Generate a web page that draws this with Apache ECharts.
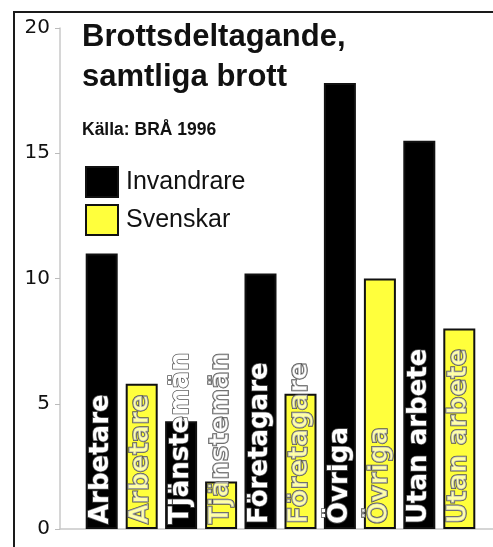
<!DOCTYPE html>
<html>
<head>
<meta charset="utf-8">
<script src="https://cdn.jsdelivr.net/npm/echarts@6/dist/echarts.min.js"></script>
<style>
  html, body { margin: 0; padding: 0; background: #fff; }
  #main { width: 493px; height: 547px; }
</style>
</head>
<body>
<div id="main"></div>
<script>
// data
const categories = ['Arbetare', 'Tjänstemän', 'Företagare', 'Övriga', 'Utan arbete'];
const invandrare = [11.0, 4.3, 10.2, 17.8, 15.5];
const svenskar = [5.8, 1.9, 5.4, 10.0, 8.0];
const yTicks = { min: 0, max: 20, interval: 5 };

const myChart = echarts.init(document.getElementById('main'));

// names written upward inside the bars
const barLabel = {
  show: true,
  formatter: '{b}',
  rotate: 90,
  position: 'insideBottom',
  align: 'left',
  verticalAlign: 'middle',
  distance: 5,
  overflow: 'none',
  fontFamily: 'DejaVu Sans',
  fontWeight: 'bold',
  fontSize: 26,
  textBorderColor: '#555',
  textBorderWidth: 1.5,
};

const option = {
  backgroundColor: '#fff',
  animation: false,
  title: {
    text: 'Brottsdeltagande,\nsamtliga brott',
    subtext: 'Källa: BRÅ 1996',
    left: 77,
    top: 12,
    itemGap: 23,
    textStyle: {
      fontFamily: 'Liberation Sans',
      fontWeight: 'bold',
      fontSize: 31,
      lineHeight: 40,
      color: '#111',
    },
    subtextStyle: {
      fontFamily: 'Liberation Sans',
      fontWeight: 'bold',
      fontSize: 17.5,
      lineHeight: 20,
      color: '#111',
    },
  },
  legend: {
    data: ['Invandrare', 'Svenskar'],
    orient: 'vertical',
    left: 85,
    top: 166,
    padding: 0,
    itemWidth: 32,
    itemHeight: 30,
    itemGap: 6,
    icon: 'rect',
    textStyle: {
      fontFamily: 'Liberation Sans',
      fontSize: 25,
      color: '#111',
      padding: [0, 0, 0, 3],
    },
  },
  graphic: [
    {
      type: 'rect',
      silent: true,
      shape: { x: 14, y: 12, width: 600, height: 700 },
      style: { fill: 'none', stroke: '#1a1a1a', lineWidth: 2 },
    },
  ],
  grid: [
    { left: 60, right: 0, top: 28, bottom: 18 },
    { left: 82, right: 14, top: 28, bottom: 18 },
  ],
  xAxis: [
    {
      // only draws the base line across the full width
      type: 'value',
      gridIndex: 0,
      min: 0,
      max: 1,
      axisLine: { show: true, lineStyle: { color: '#c8c8c8', width: 1.5 } },
      axisTick: { show: false },
      axisLabel: { show: false },
      splitLine: { show: false },
    },
    {
      type: 'category',
      gridIndex: 1,
      data: categories,
      axisLine: { show: false },
      axisTick: { show: false },
      axisLabel: { show: false },
    },
  ],
  yAxis: [
    {
      type: 'value',
      gridIndex: 0,
      min: yTicks.min,
      max: yTicks.max,
      interval: yTicks.interval,
      axisLine: { show: true, lineStyle: { color: '#c8c8c8', width: 1.5 } },
      axisTick: { show: true, length: 5, lineStyle: { color: '#bbb' } },
      axisLabel: {
        margin: 10,
        fontFamily: 'DejaVu Sans',
        fontSize: 20,
        color: '#111',
      },
      splitLine: { show: false },
    },
    {
      type: 'value',
      gridIndex: 1,
      min: yTicks.min,
      max: yTicks.max,
      interval: yTicks.interval,
      show: false,
    },
  ],
  series: [
    {
      name: 'Invandrare',
      type: 'bar',
      xAxisIndex: 1,
      yAxisIndex: 1,
      data: invandrare,
      barWidth: 32,
      barGap: '25%',
      itemStyle: { color: '#000', borderColor: '#111', borderWidth: 2 },
      label: Object.assign({}, barLabel, { color: '#fff' }),
    },
    {
      name: 'Svenskar',
      type: 'bar',
      xAxisIndex: 1,
      yAxisIndex: 1,
      data: svenskar,
      barWidth: 32,
      barGap: '25%',
      itemStyle: { color: '#ffff3c', borderColor: '#111', borderWidth: 2 },
      label: Object.assign({}, barLabel, { color: 'rgba(255,255,255,0.55)' }),
    },
  ],
};

myChart.setOption(option);

window.addEventListener('resize', () => {
  myChart.resize();
});
</script>
</body>
</html>
